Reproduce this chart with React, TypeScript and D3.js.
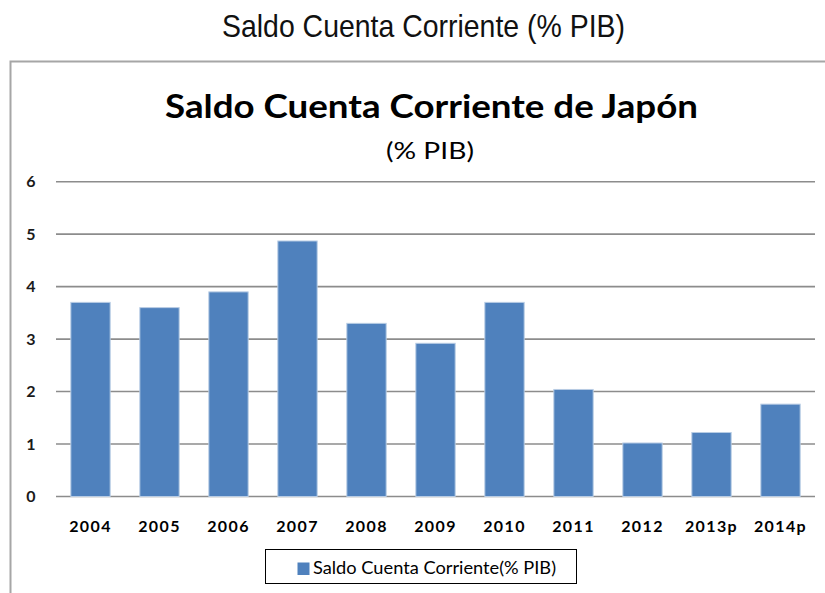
import React from "react";
import * as d3 from "d3";

const categories = ["2004", "2005", "2006", "2007", "2008", "2009", "2010", "2011", "2012", "2013p", "2014p"];
const values = [3.7, 3.6, 3.9, 4.87, 3.3, 2.92, 3.7, 2.04, 1.02, 1.22, 1.76];
const yTicks = [0, 1, 2, 3, 4, 5, 6];
const seriesName = "Saldo Cuenta Corriente(% PIB)";

const W = 825;
const H = 593;
const plotLeft = 56;
const plotRight = 815;
const plotTop = 181.7;
const plotBottom = 496.5;
const barColor = "#4F81BD";
const chartFont = "Lato, 'Open Sans', 'DejaVu Sans', sans-serif";

export default function App() {
  const x = d3.scaleBand<string>().domain(categories).range([plotLeft, plotRight]).paddingInner(0.43).paddingOuter(0.215);
  const y = d3.scaleLinear().domain([0, 6]).range([plotBottom, plotTop]);

  return (
    <svg width={W} height={H} style={{ position: "absolute", left: 0, top: 0, background: "#fff" }}>
      <text x={222} y={37} fontFamily="'Liberation Sans', Arial, sans-serif" fontSize={32} fill="#111" textLength={403} lengthAdjust="spacingAndGlyphs">
        Saldo Cuenta Corriente (% PIB)
      </text>
      {/* chart frame */}
      <path d={`M10.5,${H} L10.5,61.5 L${W},61.5`} fill="none" stroke="#a6a6a6" strokeWidth={2} />
      <text x={165} y={118} fontFamily={chartFont} fontWeight={700} fontSize={32} fill="#000" textLength={533} lengthAdjust="spacingAndGlyphs">
        Saldo Cuenta Corriente de Japón
      </text>
      <text x={386} y={159} fontFamily={chartFont} fontSize={23} fill="#000" textLength={88} lengthAdjust="spacingAndGlyphs">
        (% PIB)
      </text>
      {yTicks.map((t) => (
        <g key={t}>
          <line x1={plotLeft} x2={plotRight} y1={y(t)} y2={y(t)} stroke="#8c8c8c" strokeWidth={1.6} />
          <text x={31} y={y(t) + 5.5} textAnchor="middle" fontFamily={chartFont} fontWeight={700} fontSize={16} fill="#1a1a1a">
            {t}
          </text>
        </g>
      ))}
      {categories.map((c, i) => (
        <g key={c}>
          <rect
            x={x(c)!}
            y={y(values[i])}
            width={x.bandwidth()}
            height={plotBottom - y(values[i])}
            fill={barColor}
            stroke="#b8cce4"
            strokeWidth={1}
          />
          <text x={x(c)! + x.bandwidth() / 2} y={531.5} textAnchor="middle" fontFamily={chartFont} fontWeight={700} fontSize={16} letterSpacing={1.4} fill="#000">
            {c}
          </text>
        </g>
      ))}
      <rect x={265.5} y={549.5} width={311} height={34} fill="#fff" stroke="#000" strokeWidth={1} />
      <rect x={297.5} y={562.5} width={12} height={12.5} fill={barColor} />
      <text x={313} y={574} fontFamily={chartFont} fontSize={17} fill="#000" textLength={243} lengthAdjust="spacingAndGlyphs">
        {seriesName}
      </text>
    </svg>
  );
}
